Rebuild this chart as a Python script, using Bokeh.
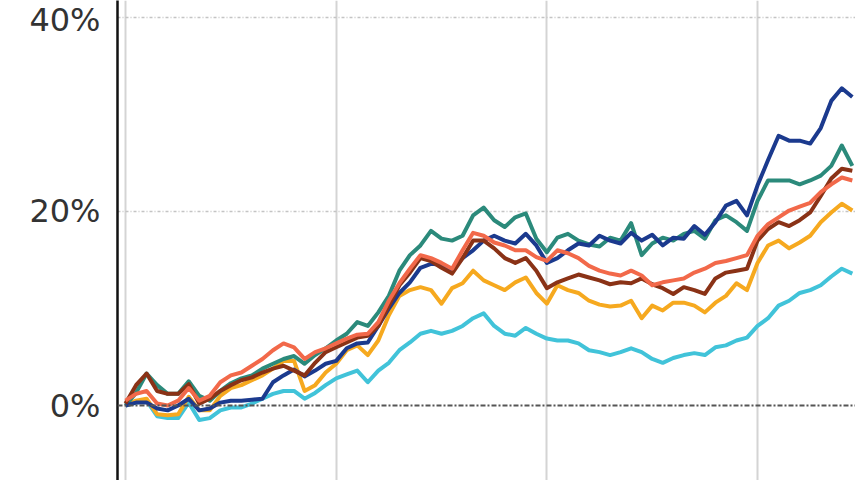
from bokeh.plotting import figure
from bokeh.models import Range1d, FixedTicker, PrintfTickFormatter, Span
from bokeh.embed import file_html
from bokeh.resources import INLINE

# period index (weekly steps)
weeks = list(range(70))

navy = [0.0, 0.3, 0.3, -0.3, -0.5, 0.0, 0.7, -0.5, -0.3, 0.3,
        0.5, 0.5, 0.6, 0.7, 2.4, 3.1, 3.7, 3.0, 3.6, 4.3,
        4.6, 5.9, 6.4, 6.5, 8.2, 10.0, 11.6, 12.7, 14.2, 14.6,
        14.5, 13.9, 15.2, 16.0, 17.0, 17.5, 17.0, 16.7, 17.7, 16.5,
        14.7, 15.2, 16.0, 16.7, 16.5, 17.5, 17.0, 16.7, 17.8, 17.0,
        17.6, 16.5, 17.3, 17.2, 18.5, 17.6, 18.9, 20.6, 21.1, 19.6,
        22.7, 25.3, 27.8, 27.3, 27.3, 27.0, 28.6, 31.4, 32.7, 31.8]

teal = [0.0, 1.3, 3.3, 2.1, 1.2, 1.2, 2.5, 1.0, 0.5, 1.5,
        2.3, 2.8, 3.1, 3.8, 4.3, 4.8, 5.1, 4.3, 5.2, 5.9,
        6.7, 7.4, 8.6, 8.2, 9.6, 11.3, 13.9, 15.5, 16.5, 18.0,
        17.2, 17.0, 17.5, 19.6, 20.4, 19.1, 18.4, 19.4, 19.8, 17.2,
        15.8, 17.3, 17.7, 17.0, 16.6, 16.4, 17.3, 17.0, 18.8, 15.5,
        16.7, 17.3, 17.0, 17.7, 18.0, 17.2, 19.1, 19.6, 18.9, 18.0,
        21.1, 23.2, 23.2, 23.2, 22.8, 23.2, 23.7, 24.7, 26.8, 24.7]

coral = [0.5, 1.2, 1.5, 0.2, 0.0, 0.5, 1.8, 0.5, 1.0, 2.4,
         3.1, 3.4, 4.1, 4.8, 5.7, 6.4, 6.0, 4.8, 5.5, 5.9,
         6.4, 6.9, 7.3, 7.4, 8.6, 10.8, 12.6, 14.1, 15.5, 15.2,
         14.7, 14.1, 16.0, 17.8, 17.5, 16.8, 16.5, 16.0, 16.0, 15.3,
         14.9, 16.0, 15.7, 15.2, 14.4, 13.9, 13.6, 13.4, 13.9, 13.4,
         12.4, 12.7, 12.9, 13.1, 13.7, 14.1, 14.7, 14.9, 15.2, 15.5,
         17.5, 18.7, 19.4, 20.1, 20.5, 20.9, 22.0, 22.8, 23.5, 23.2]

brown = [0.2, 2.1, 3.3, 1.5, 1.2, 1.2, 2.2, 0.2, 0.7, 1.5,
         2.1, 2.6, 2.9, 3.4, 3.8, 4.1, 3.6, 3.1, 4.4, 5.5,
         6.0, 6.5, 7.0, 7.2, 8.2, 10.3, 12.4, 13.7, 15.2, 14.9,
         14.2, 13.6, 15.2, 17.0, 17.0, 16.2, 15.2, 14.7, 15.2, 13.9,
         12.1, 12.7, 13.1, 13.5, 13.2, 12.9, 12.5, 12.7, 12.6, 13.1,
         12.5, 12.1, 11.5, 12.2, 11.9, 11.5, 13.1, 13.7, 13.9, 14.1,
         17.0, 18.2, 18.9, 18.5, 19.1, 19.9, 21.6, 23.4, 24.4, 24.2]

amber = [0.0, 0.5, 0.7, -0.9, -1.0, -0.9, 0.9, -0.5, -0.5, 1.0,
         1.8, 2.1, 2.6, 3.1, 3.8, 4.6, 4.6, 1.5, 2.1, 3.4,
         4.3, 5.7, 6.2, 5.2, 6.7, 9.3, 11.3, 11.9, 12.2, 11.9,
         10.5, 12.1, 12.6, 13.9, 12.9, 12.4, 11.9, 12.7, 13.2, 11.6,
         10.5, 12.4, 11.9, 11.6, 10.8, 10.4, 10.2, 10.3, 10.8, 9.0,
         10.3, 9.8, 10.6, 10.6, 10.3, 9.6, 10.6, 11.3, 12.6, 11.9,
         14.7, 16.5, 17.0, 16.2, 16.8, 17.5, 18.9, 19.9, 20.8, 20.1]

cyan = [0.0, 0.3, 0.5, -1.1, -1.3, -1.3, 0.3, -1.5, -1.3, -0.5,
        -0.2, -0.2, 0.2, 0.7, 1.2, 1.5, 1.5, 0.7, 1.3, 2.1,
        2.8, 3.2, 3.6, 2.4, 3.6, 4.4, 5.7, 6.5, 7.4, 7.7,
        7.4, 7.7, 8.2, 9.0, 9.5, 8.2, 7.4, 7.2, 8.0, 7.4,
        6.9, 6.7, 6.7, 6.4, 5.7, 5.5, 5.2, 5.5, 5.9, 5.5,
        4.8, 4.4, 4.9, 5.2, 5.4, 5.2, 6.0, 6.2, 6.7, 7.0,
        8.2, 9.0, 10.3, 10.8, 11.6, 11.9, 12.4, 13.3, 14.1, 13.6]

y_ticks = [0, 20, 40]
x_grid = [0, 20, 40, 60]

series = [
    (cyan, "#41c3d9"),
    (amber, "#f6a91f"),
    (teal, "#2b8a7b"),
    (navy, "#1b3a8e"),
    (brown, "#8a3216"),
    (coral, "#f2694a"),
]

p = figure(width=855, height=480, output_backend="svg", toolbar_location=None,
           x_range=Range1d(-0.76, 69.3), y_range=Range1d(-7.73, 41.75),
           min_border_left=117, min_border_right=0, min_border_top=0,
           min_border_bottom=0)
p.outline_line_color = None
p.xaxis.visible = False

yax = p.yaxis[0]
yax.ticker = FixedTicker(ticks=y_ticks)
yax.formatter = PrintfTickFormatter(format="%d%%")
yax.axis_line_color = "#111111"
yax.axis_line_width = 2.5
yax.major_tick_out = 0
yax.major_tick_in = 0
yax.minor_tick_out = 0
yax.minor_tick_in = 0
yax.major_label_standoff = 17
yax.major_label_text_font = "DejaVu Sans"
yax.major_label_text_font_size = "32px"
yax.major_label_text_color = "#333333"

p.ygrid.ticker = FixedTicker(ticks=[20, 40])
p.ygrid.grid_line_color = "#c4c4c4"
p.ygrid.grid_line_dash = "3 2 1 2"
p.ygrid.grid_line_width = 1.5

p.xgrid.ticker = FixedTicker(ticks=x_grid)
p.xgrid.grid_line_color = "#d4d4d4"
p.xgrid.grid_line_width = 2

zero = Span(location=0, dimension="width", line_color="#555555",
            line_dash="5 2 2 2", line_width=2)
p.add_layout(zero)

for vals, col in series:
    p.line(weeks, vals, line_color=col, line_width=4, line_join="round")

open("out.html", "w").write(file_html(p, INLINE))
